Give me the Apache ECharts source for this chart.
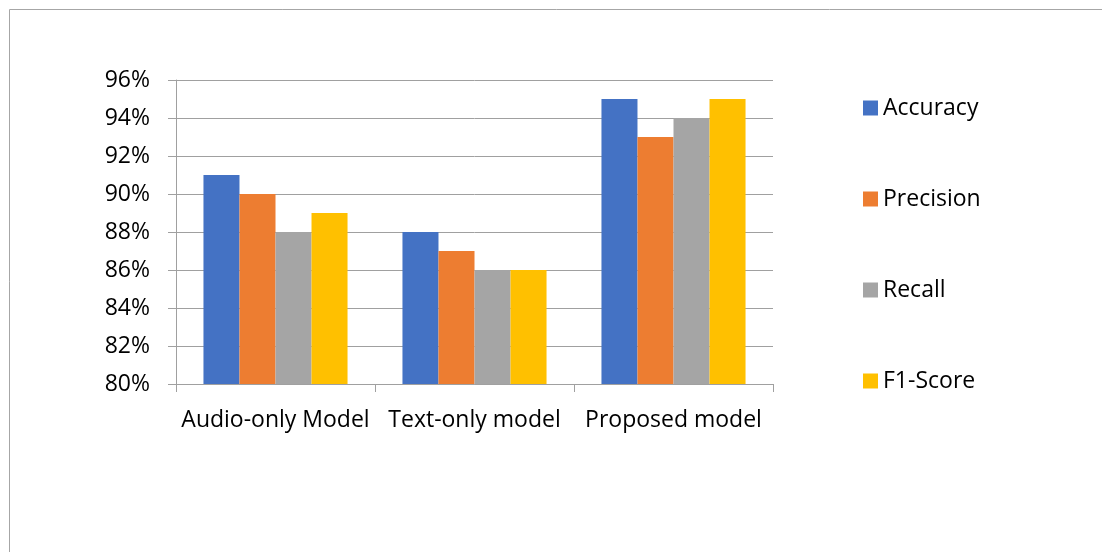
<!DOCTYPE html>
<html>
<head>
<meta charset="utf-8">
<script src="https://cdn.jsdelivr.net/npm/echarts@6/dist/echarts.min.js"></script>
<style>
html,body{margin:0;padding:0;background:#fff;}
#c{width:1102px;height:552px;}
</style>
</head>
<body>
<div id="c"></div>
<script>
const categories = ['Audio-only Model', 'Text-only model', 'Proposed model'];
const accuracy = [91, 88, 95];
const precision = [90, 87, 93];
const recall = [88, 86, 94];
const f1Score = [89, 86, 95];
const seriesNames = ['Accuracy', 'Precision', 'Recall', 'F1-Score'];
const seriesColors = ['#4472C4', '#ED7D31', '#A5A5A5', '#FFC000'];
const seriesData = [accuracy, precision, recall, f1Score];

const chart = echarts.init(document.getElementById('c'));
const font = '"Open Sans", "DejaVu Sans", sans-serif';
chart.setOption({
  animation: false,
  graphic: [{
    type: 'rect',
    shape: {x: 9.5, y: 9.5, width: 1200, height: 1000},
    style: {fill: 'none', stroke: '#a6a6a6', lineWidth: 1},
    silent: true, z: -10
  }],
  grid: {left: 176, top: 80, width: 597, height: 304, containLabel: false},
  legend: {
    orient: 'vertical', left: 863, top: 95, padding: 0,
    itemWidth: 15, itemHeight: 15, itemGap: 65,
    icon: 'rect',
    textStyle: {fontFamily: font, fontSize: 23, color: '#000', lineHeight: 26},
    data: seriesNames
  },
  xAxis: {
    type: 'category', data: categories,
    axisLine: {show: true, lineStyle: {color: '#a0a0a0', width: 1}},
    axisTick: {show: true, length: 8, alignWithLabel: false, lineStyle: {color: '#a0a0a0'}},
    axisLabel: {fontFamily: font, fontSize: 23, color: '#000', margin: 25, interval: 0}
  },
  yAxis: {
    type: 'value', min: 80, max: 96, interval: 2,
    axisLine: {show: true, lineStyle: {color: '#a0a0a0', width: 1}},
    axisTick: {show: true, length: 8, lineStyle: {color: '#a0a0a0'}},
    splitLine: {show: true, lineStyle: {color: '#a0a0a0', width: 1}},
    axisLabel: {fontFamily: font, fontSize: 23, color: '#000', margin: 26, formatter: '{value}%'}
  },
  series: seriesNames.map((n, i) => ({
    name: n, type: 'bar', data: seriesData[i],
    barGap: '0%', barCategoryGap: '27.6%',
    itemStyle: {color: seriesColors[i]}
  }))
});
</script>
</body>
</html>
